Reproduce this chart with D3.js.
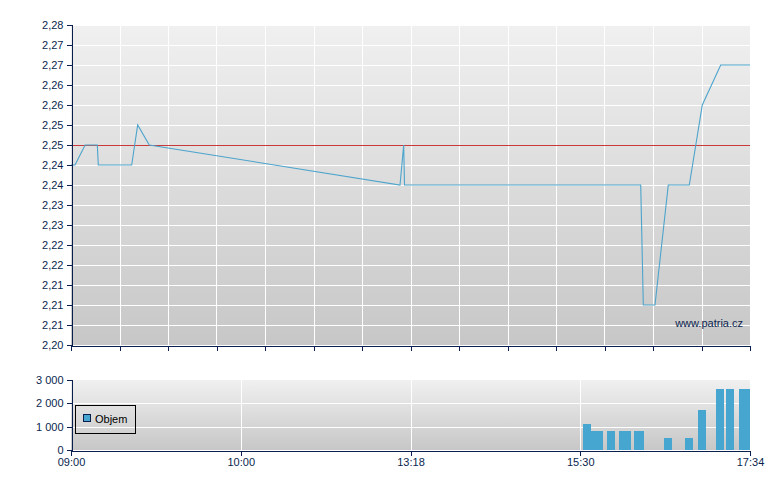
<!DOCTYPE html>
<html><head><meta charset="utf-8">
<script src="https://cdn.jsdelivr.net/npm/d3@7"></script>
<style>
body{margin:0;background:#fff;}
text{font-family:"Liberation Sans",Arial,sans-serif;font-size:11px;}
</style></head>
<body><svg id="c" width="780" height="490"></svg>
<script>
// ---- data ----
const axisTimes = ["09:00","10:00","13:18","15:30","17:34"];
const priceTimes = ["09:00","09:01:25","09:05","09:09:18","09:09:39","09:21:27","09:23:34","09:27:40","13:05:46","13:10:04","13:11:00","16:14:10","16:16:04","16:24:36","16:34:18","16:49:40","16:59:09","17:12:36","17:34"];
const priceValues = [2.245,2.245,2.25,2.25,2.245,2.245,2.255,2.25,2.24,2.25,2.24,2.24,2.21,2.21,2.24,2.24,2.26,2.27,2.27];
const refValue = 2.25;
const priceTickValues = [2.20,2.205,2.21,2.215,2.22,2.225,2.23,2.235,2.24,2.245,2.25,2.255,2.26,2.265,2.27,2.275,2.28];
const priceTickLabels = ["2,20","2,21","2,21","2,21","2,22","2,22","2,23","2,23","2,24","2,24","2,25","2,25","2,26","2,26","2,27","2,27","2,28"];
const volTimes = ["15:35","15:41","15:44","15:52:30","16:01","16:04","16:12","16:14","16:34","16:49:30","16:59","17:12","17:19:30","17:29","17:34"];
const volValues = [1100,800,800,800,800,800,800,800,500,500,1700,2600,2600,2600,2600];
const volTickValues = [0,1000,2000,3000];
const volTickLabels = ["0","1 000","2 000","3 000"];
const gridDivisions = 14;

// ---- layout ----
const L=71, R=750, mT=25, mB=345, vT=380, vB=450;
const navy="#0a1f4e";
const toMin = s => { const p=s.split(":").map(Number); return p[0]*60+p[1]+(p[2]||0)/60; };

const svg = d3.select("#c");
const defs = svg.append("defs");
const g = defs.append("linearGradient").attr("id","bg").attr("x1",0).attr("y1",0).attr("x2",0).attr("y2",1);
g.append("stop").attr("offset","0%").attr("stop-color","#f0f0f0");
g.append("stop").attr("offset","100%").attr("stop-color","#c7c7c7");
defs.append("clipPath").attr("id","clipM").append("rect").attr("x",L).attr("y",mT).attr("width",R-L).attr("height",mB-mT);
defs.append("clipPath").attr("id","clipV").append("rect").attr("x",L).attr("y",vT).attr("width",R-L).attr("height",vB-vT);

const axisMin = axisTimes.map(toMin);
const x = d3.scaleLinear().domain(axisMin).range(axisMin.map((d,i)=>L+(R-L)*i/(axisMin.length-1)));
const gridX = d3.scaleLinear().domain([0,gridDivisions]).range([L,R]);
const y = d3.scaleLinear().domain([2.20,2.28]).range([mB,mT]);
const yv = d3.scaleLinear().domain([0,3000]).range([vB,vT]);

// ---- main panel ----
svg.append("rect").attr("x",L).attr("y",mT).attr("width",R-L).attr("height",mB-mT).attr("fill","url(#bg)");
const gm = svg.append("g").attr("shape-rendering","crispEdges");
gm.selectAll("line.h").data(priceTickValues.slice(1)).join("line")
  .attr("x1",L).attr("x2",R).attr("y1",d=>Math.round(y(d))+0.5).attr("y2",d=>Math.round(y(d))+0.5)
  .attr("stroke","#fff");
gm.selectAll("line.v").data(d3.range(1,gridDivisions)).join("line")
  .attr("y1",mT).attr("y2",mB).attr("x1",d=>Math.round(gridX(d))+0.5).attr("x2",d=>Math.round(gridX(d))+0.5)
  .attr("stroke","#fff");

svg.append("text").attr("x",743).attr("y",327).attr("text-anchor","end").attr("fill",navy).text("www.patria.cz");

svg.append("line").attr("x1",L).attr("x2",R).attr("y1",Math.round(y(refValue))+0.5).attr("y2",Math.round(y(refValue))+0.5)
  .attr("stroke","#c83a3a").attr("shape-rendering","crispEdges");

const pts = priceTimes.map((t,i)=>[x(toMin(t)), y(priceValues[i])]);
svg.append("path").attr("clip-path","url(#clipM)").attr("d",d3.line()(pts))
  .attr("fill","none").attr("stroke","#4ca4cc").attr("stroke-width",1.1);

// main axes
const yAx = svg.append("g").attr("transform",`translate(${L+0.5},0)`)
  .call(d3.axisLeft(y).tickValues(priceTickValues).tickFormat((d,i)=>priceTickLabels[i]).tickSize(5).tickPadding(3));
const xAxM = svg.append("g").attr("transform",`translate(0,${mB+0.5})`)
  .call(d3.axisBottom(gridX).ticks(gridDivisions).tickValues(d3.range(0,gridDivisions+1)).tickFormat("").tickSizeOuter(0).tickSize(5));

// ---- volume panel ----
svg.append("rect").attr("x",L).attr("y",vT).attr("width",R-L).attr("height",vB-vT).attr("fill","url(#bg)");
const gv = svg.append("g").attr("shape-rendering","crispEdges");
gv.selectAll("line.h").data(volTickValues.slice(1,-1)).join("line")
  .attr("x1",L).attr("x2",R).attr("y1",d=>Math.round(yv(d))+0.5).attr("y2",d=>Math.round(yv(d))+0.5).attr("stroke","#fff");
gv.selectAll("line.v").data(axisMin.slice(1,-1)).join("line")
  .attr("y1",vT).attr("y2",vB).attr("x1",d=>Math.round(x(d))+0.5).attr("x2",d=>Math.round(x(d))+0.5).attr("stroke","#fff");

const bw = 8;
svg.append("g").attr("clip-path","url(#clipV)").attr("shape-rendering","crispEdges")
  .selectAll("rect").data(volTimes).join("rect")
  .attr("x",d=>x(toMin(d))-bw/2).attr("width",bw)
  .attr("y",(d,i)=>yv(volValues[i])).attr("height",(d,i)=>vB-yv(volValues[i]))
  .attr("fill","#47a6cf");

svg.append("g").attr("transform",`translate(${L+0.5},0)`)
  .call(d3.axisLeft(yv).tickValues(volTickValues).tickFormat((d,i)=>volTickLabels[i]).tickSize(5).tickPadding(3));
svg.append("g").attr("transform",`translate(0,${vB+0.5})`)
  .call(d3.axisBottom(x).tickValues(axisMin).tickFormat((d,i)=>axisTimes[i]).tickSizeOuter(0).tickSize(5).tickPadding(3));

svg.selectAll(".domain,.tick line").attr("stroke",navy).attr("shape-rendering","crispEdges");
svg.selectAll(".tick text").attr("fill",navy).style("font-size","11px").style("font-family","'Liberation Sans',Arial,sans-serif");

// legend
svg.append("rect").attr("x",75.5).attr("y",405.5).attr("width",60).attr("height",28).attr("fill","none").attr("stroke","#000").attr("shape-rendering","crispEdges");
svg.append("rect").attr("x",83.5).attr("y",414.5).attr("width",7).attr("height",7).attr("fill","#47a6cf").attr("stroke","#0a1f4e").attr("shape-rendering","crispEdges");
svg.append("text").attr("x",95).attr("y",423).attr("fill","#000").text("Objem");
</script></body></html>
